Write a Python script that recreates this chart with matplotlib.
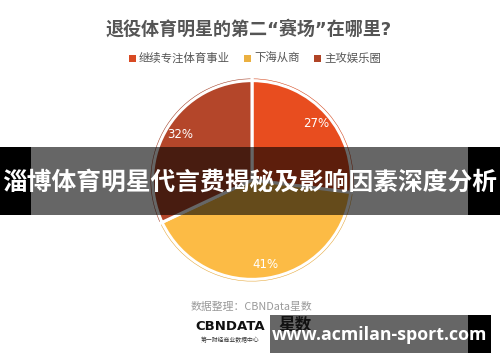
import matplotlib
matplotlib.use('Agg')
import matplotlib.pyplot as plt
from matplotlib.patches import Rectangle

plt.rcParams['font.family'] = ['Noto Sans CJK SC', 'DejaVu Sans']

# chart data
title = '退役体育明星的第二“赛场”在哪里?'
categories = ['继续专注体育事业', '下海从商', '主攻娱乐圈']
shares = [27, 41, 32]
colors = ['#E84D1F', '#FCBB45', '#B4462A']
edge_colors = ['#D4461C', '#E6A93E', '#A33F26']
legend_colors = ['#D84A23', '#EBB040', '#B04426']
source = '数据整理：CBNData星数'
banner = '淄博体育明星代言费揭秘及影响因素深度分析'
watermark = 'www.acmilan-sport.com'

W, H = 500, 362
fig = plt.figure(figsize=(W / 100, H / 100), dpi=100)
fig.patch.set_facecolor('white')

# pie axes, centre (252, 180) px, radius ~103 px
cx, cy, r = 252, 180, 103
axp = fig.add_axes([(cx - r) / W, (H - cy - r) / H, 2 * r / W, 2 * r / H])
axp.pie(shares, colors=colors, startangle=90, counterclock=False, radius=1,
        autopct='%d%%', pctdistance=0.83,
        wedgeprops=dict(edgecolor='white', linewidth=2.2),
        textprops=dict(color='white', fontsize=8.5, family='DejaVu Sans'))
# darker rim on each slice
axp.pie(shares, colors=edge_colors, startangle=90, counterclock=False, radius=1,
        wedgeprops=dict(width=0.035, edgecolor='white', linewidth=2.2))
axp.set_xlim(-1, 1)
axp.set_ylim(-1, 1)
axp.set_aspect('equal')
axp.axis('off')

# overlay in pixel coordinates
ax = fig.add_axes([0, 0, 1, 1], zorder=5)
ax.set_xlim(0, W)
ax.set_ylim(H, 0)
ax.axis('off')
ax.patch.set_alpha(0)

ax.text(249, 29, title, ha='center', va='center', fontsize=13,
        fontweight='bold', color='#555555',
        family=['DejaVu Sans', 'Noto Sans CJK SC'])

# legend
lx = [129, 244, 314]
for x, lab, c in zip(lx, categories, legend_colors):
    ax.add_patch(Rectangle((x, 54.5), 7, 7, color=c, lw=0))
    ax.text(x + 10, 58, lab, ha='left', va='center', fontsize=8.2, color='#555555')

# source + logo
ax.text(191, 307, source, ha='left', va='center', fontsize=7.8, color='#9a9a9a')
ax.text(230, 326, 'CBNDATA', ha='center', va='center', fontsize=9.5,
        fontweight='bold', color='#111111', family='DejaVu Sans')
ax.text(230, 340, '第一财经商业数据中心', ha='center', va='center', fontsize=4.2,
        color='#333333')
ax.text(295, 324, '星数', ha='center', va='center', fontsize=12,
        fontweight='bold', color='#111111')

# banner across the middle
ax.add_patch(Rectangle((0, 147), 31, 68, color='black', lw=0))
ax.add_patch(Rectangle((468, 147), 32, 68, color='black', lw=0))
ax.add_patch(Rectangle((31, 147), 437, 68, color='black', alpha=0.6, lw=0))
ax.text(250, 183, banner, ha='center', va='center', fontsize=17.8,
        fontweight='bold', color='white')

# watermark box
ax.add_patch(Rectangle((270, 315), 198, 38, color='black', alpha=0.6, lw=0))
ax.add_patch(Rectangle((468, 315), 23, 38, color='black', lw=0))
ax.text(380, 335, watermark, ha='center', va='center', fontsize=12.8,
        fontweight='bold', color='white', family='Open Sans')

fig.savefig('out.png', dpi=100)
